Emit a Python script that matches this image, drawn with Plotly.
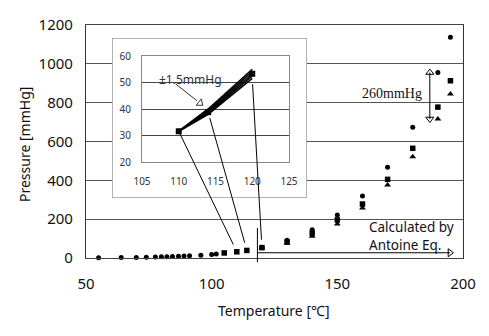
import plotly.graph_objects as go

# ---------------- data ----------------
measured_T = [55, 64, 70, 74, 77.6, 80, 82.2, 84.4, 86.8, 89, 91.2, 95.7, 100, 101.8]
measured_P = [1, 2, 3, 4, 5, 6, 7, 8, 9, 10, 11, 14, 18, 20]

square_T = [105, 110, 114]
square_P = [26, 32, 39]

calc_T = [120, 130, 140, 150, 160, 170, 180, 190, 195]
calc_hi = [55, 92, 145, 221, 319, 467, 673, 955, 1137]
calc_mid = [53.3, 83, 128, 196, 278, 405, 565, 777, 913]
calc_lo = [51.6, 76, 112, 175, 258, 376, 522, 716, 845]

inset_T = [110, 114, 120]
inset_lines = [
    [31.6, 38.0, 51.6],
    [31.6, 38.5, 52.5],
    [31.6, 39.0, 53.3],
    [31.6, 39.5, 54.2],
    [31.6, 40.0, 55.0],
]
inset_marker_P = [31.6, 38.8, 53.3]

main_xticks = [50, 100, 150, 200]
main_yticks = [0, 200, 400, 600, 800, 1000, 1200]
inset_xticks = [105, 110, 115, 120, 125]
inset_yticks = [20, 30, 40, 50, 60]

# ---------------- geometry helpers ----------------
FW, FH = 489, 336
ML, MR, MT, MB = 86, 26, 25, 78
PW, PH = FW - ML - MR, FH - MT - MB
X0, X1 = 50, 200
Y0, Y1 = 0, 1200

IX_PX = (142, 289)   # inset plot area, pixels
IY_PX = (56, 162)
IXR = (105, 125)
IYR = (20, 60)

BOX_X_PX = (112, 307)
BOX_Y_PX = (38, 198)


def paper_x(px):
    return (px - ML) / PW


def paper_y(py):
    return (FH - MB - py) / PH


def main_px(t, p):
    return ML + (t - X0) / (X1 - X0) * PW, MT + (Y1 - p) / (Y1 - Y0) * PH


def inset_px(t, p):
    return (IX_PX[0] + (t - IXR[0]) / (IXR[1] - IXR[0]) * (IX_PX[1] - IX_PX[0]),
            IY_PX[1] - (p - IYR[0]) / (IYR[1] - IYR[0]) * (IY_PX[1] - IY_PX[0]))


FONT = "Noto Sans"

fig = go.Figure()

# ---------------- main chart ----------------
fig.add_trace(go.Scatter(x=measured_T, y=measured_P, mode="markers",
                         marker=dict(symbol="circle", size=5, color="black"),
                         showlegend=False, cliponaxis=False))
fig.add_trace(go.Scatter(x=square_T, y=square_P, mode="markers",
                         marker=dict(symbol="square", size=5.5, color="black"),
                         showlegend=False))
fig.add_trace(go.Scatter(x=calc_T, y=calc_hi, mode="markers",
                         marker=dict(symbol="circle", size=5, color="black"),
                         showlegend=False))
fig.add_trace(go.Scatter(x=calc_T, y=calc_mid, mode="markers",
                         marker=dict(symbol="square", size=5.5, color="black"),
                         showlegend=False))
fig.add_trace(go.Scatter(x=calc_T, y=calc_lo, mode="markers",
                         marker=dict(symbol="triangle-up", size=6, color="black"),
                         showlegend=False))

# 260 mmHg double arrow
arr_T = 186.8
arr_top, arr_bot = 955, 716
fig.add_trace(go.Scatter(x=[arr_T, arr_T], y=[arr_top, arr_bot], mode="lines",
                         line=dict(color="black", width=1), showlegend=False, hoverinfo="skip"))
fig.add_trace(go.Scatter(x=[arr_T], y=[arr_top], mode="markers",
                         marker=dict(symbol="triangle-up-open", size=7, color="black",
                                     line=dict(width=1)), showlegend=False))
fig.add_trace(go.Scatter(x=[arr_T], y=[arr_bot], mode="markers",
                         marker=dict(symbol="triangle-down-open", size=7, color="black",
                                     line=dict(width=1)), showlegend=False))

# Antoine horizontal arrow
ant_T0, ant_T1, ant_P = 118.2, 194.8, 27
fig.add_trace(go.Scatter(x=[ant_T0, ant_T1], y=[ant_P, ant_P], mode="lines",
                         line=dict(color="black", width=1), showlegend=False, hoverinfo="skip"))
fig.add_trace(go.Scatter(x=[ant_T1], y=[ant_P], mode="markers",
                         marker=dict(symbol="triangle-right-open", size=7, color="black",
                                     line=dict(width=1)), showlegend=False, cliponaxis=False))

# ---------------- inset box (x2/y2) ----------------
fig.add_trace(go.Scatter(x=[0, 1, 1, 0, 0], y=[0, 0, 1, 1, 0], mode="lines",
                         fill="toself", fillcolor="white",
                         line=dict(color="#9a9a9a", width=1.5),
                         xaxis="x2", yaxis="y2", showlegend=False, hoverinfo="skip"))

# ---------------- inset chart (x3/y3) ----------------
for ln in inset_lines:
    fig.add_trace(go.Scatter(x=inset_T, y=ln, mode="lines",
                             line=dict(color="black", width=1.6),
                             xaxis="x3", yaxis="y3", showlegend=False))
fig.add_trace(go.Scatter(x=inset_T, y=inset_marker_P, mode="markers",
                         marker=dict(symbol="square", size=6, color="black"),
                         xaxis="x3", yaxis="y3", showlegend=False))

# ±1.5 arrow head (in inset coords)
pm_t0, pm_p0, pm_t1, pm_p1 = 109.6, 49.4, 112.9, 42.2
fig.add_trace(go.Scatter(x=[pm_t1], y=[pm_p1], mode="markers",
                         marker=dict(symbol="triangle-up-open", size=7, color="#333",
                                     angle=128, line=dict(width=1)),
                         xaxis="x3", yaxis="y3", showlegend=False, cliponaxis=False))

shapes = []
# ±1.5 arrow shaft
a0 = inset_px(pm_t0, pm_p0)
a1 = inset_px(pm_t1, pm_p1)
shapes.append(dict(type="line", xref="paper", yref="paper",
                   x0=paper_x(a0[0]), y0=paper_y(a0[1]),
                   x1=paper_x(a1[0] - 3), y1=paper_y(a1[1] - 2.4),
                   line=dict(color="#333", width=1), layer="above"))

# leader lines from inset points to main points
for t, pi, pm in zip(inset_T, [31.6, 38.8, 51.6], [32, 39, 53]):
    sx, sy = inset_px(t, pi)
    ex, ey = main_px(t, pm)
    dx, dy = ex - sx, ey - sy
    d = (dx ** 2 + dy ** 2) ** 0.5
    ux, uy = dx / d, dy / d
    trim_s = 2 if t == inset_T[0] else 6
    trim_e = 8
    shapes.append(dict(type="line", xref="paper", yref="paper",
                       x0=paper_x(sx + ux * trim_s), y0=paper_y(sy + uy * trim_s),
                       x1=paper_x(ex - ux * trim_e), y1=paper_y(ey - uy * trim_e),
                       line=dict(color="black", width=1), layer="above"))

# vertical marker line at the Antoine start
vx, _ = main_px(ant_T0, 0)
shapes.append(dict(type="line", xref="paper", yref="paper",
                   x0=paper_x(vx), x1=paper_x(vx), y0=paper_y(228), y1=paper_y(262),
                   line=dict(color="black", width=1), layer="above"))

annotations = [
    dict(text="Calculated by<br>Antoine Eq.", xref="paper", yref="paper",
         x=paper_x(367), y=paper_y(235.5),
         xanchor="left", yanchor="middle", align="left", showarrow=False,
         font=dict(family=FONT, size=13.5, color="#111")),
    dict(text="260mmHg", xref="x", yref="y", x=171.8, y=845,
         xanchor="center", yanchor="middle", showarrow=False,
         font=dict(family="Liberation Serif", size=14, color="#111")),
    dict(text="±1.5mmHg", xref="x3", yref="y3", x=111.6, y=51.2,
         xanchor="center", yanchor="middle", showarrow=False,
         font=dict(family=FONT, size=12, color="#333")),
    dict(text="Pressure [mmHg]", xref="paper", yref="paper", x=paper_x(24), y=paper_y(145),
         xanchor="center", yanchor="middle", textangle=-90, showarrow=False,
         font=dict(family=FONT, size=14, color="#111")),
    dict(text="Temperature [℃]", xref="paper", yref="paper", x=paper_x(274), y=paper_y(310),
         xanchor="center", yanchor="middle", showarrow=False,
         font=dict(family=FONT, size=14, color="#111")),
]

bx0, bx1 = paper_x(BOX_X_PX[0]), paper_x(BOX_X_PX[1])
by0, by1 = paper_y(BOX_Y_PX[1]), paper_y(BOX_Y_PX[0])
ix0, ix1 = paper_x(IX_PX[0]), paper_x(IX_PX[1])
iy0, iy1 = paper_y(IY_PX[1]), paper_y(IY_PX[0])

fig.update_layout(
    width=FW, height=FH,
    margin=dict(l=ML, r=MR, t=MT, b=MB),
    paper_bgcolor="white", plot_bgcolor="white",
    font=dict(family=FONT, size=15, color="#111"),
    showlegend=False,
    shapes=shapes,
    annotations=annotations,
    xaxis=dict(domain=[0, 1], range=[X0, X1], tickvals=main_xticks, showgrid=False,
               zeroline=False, showline=True, linecolor="#444", linewidth=1.2, mirror=True,
               ticks="", ticklabelstandoff=12, tickfont=dict(size=15)),
    yaxis=dict(domain=[0, 1], range=[Y0, Y1], tickvals=main_yticks, showgrid=True,
               gridcolor="#555", gridwidth=1, zeroline=False, showline=True,
               linecolor="#333", linewidth=1.2, mirror=True, ticks="",
               ticklabelstandoff=9, tickfont=dict(size=15)),
    xaxis2=dict(domain=[bx0, bx1], range=[0, 1], visible=False, anchor="y2", fixedrange=True),
    yaxis2=dict(domain=[by0, by1], range=[0, 1], visible=False, anchor="x2", fixedrange=True),
    xaxis3=dict(domain=[ix0, ix1], range=list(IXR), tickvals=inset_xticks, anchor="y3",
                showgrid=False, zeroline=False, showline=True, linecolor="#888",
                linewidth=1, mirror=True, ticks="", ticklabelstandoff=10,
                tickfont=dict(size=10, color="#333")),
    yaxis3=dict(domain=[iy0, iy1], range=list(IYR), tickvals=inset_yticks, anchor="x3",
                showgrid=True, gridcolor="#444", gridwidth=1, zeroline=False,
                showline=True, linecolor="#888", linewidth=1, mirror=True, ticks="",
                ticklabelstandoff=8, tickfont=dict(size=10, color="#333")),
)

fig.write_html("out.html")
